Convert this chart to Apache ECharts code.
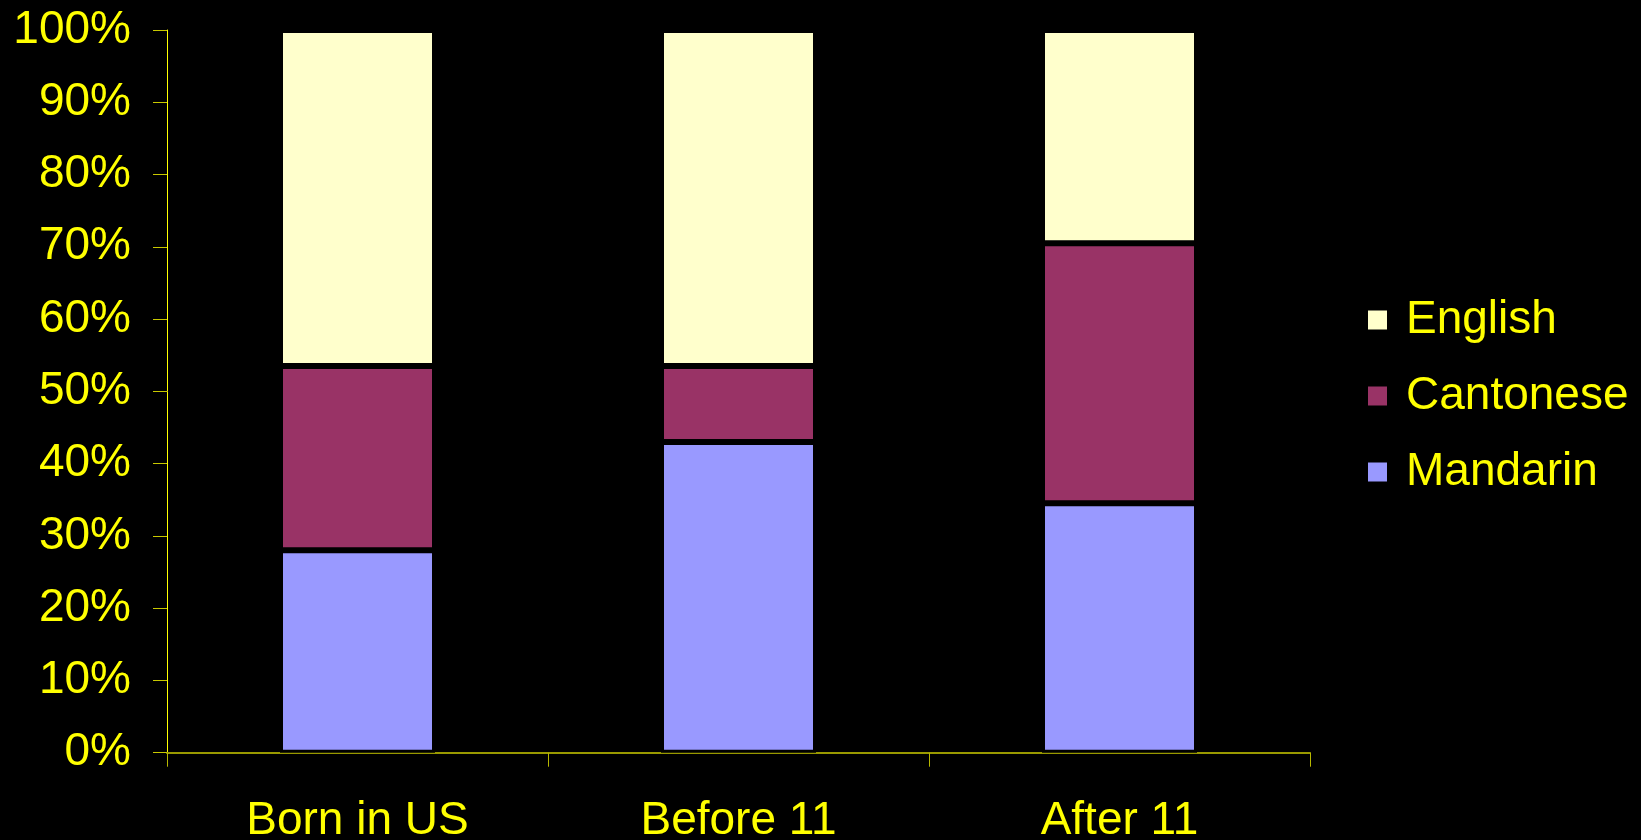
<!DOCTYPE html>
<html>
<head>
<meta charset="utf-8">
<script src="https://cdn.jsdelivr.net/npm/echarts@6/dist/echarts.min.js"></script>
<style>
  html, body { margin: 0; padding: 0; background: #000; }
  #chart { width: 1641px; height: 840px; }
</style>
</head>
<body>
<div id="chart"></div>
<script>
const categories = ['Born in US', 'Before 11', 'After 11'];
const mandarin = [28, 43, 34.5];
const cantonese = [25.5, 10.5, 36];
const english = [46.5, 46.5, 29.5];
const legendOrder = ['English', 'Cantonese', 'Mandarin'];

const FONT = '"Liberation Sans", Arial, sans-serif';
const chart = echarts.init(document.getElementById('chart'), null, { renderer: 'canvas' });

function barSeries(name, data, color) {
  return {
    name: name,
    type: 'bar',
    stack: 'total',
    data: data,
    barWidth: 155,
    itemStyle: { color: color, borderColor: '#000', borderWidth: 3 },
    emphasis: { disabled: true }
  };
}

chart.setOption({
  backgroundColor: '#000000',
  animation: false,
  textStyle: { fontFamily: FONT },
  grid: { left: 167, right: 331, top: 30, bottom: 87.3, containLabel: false, outerBoundsMode: 'none' },
  legend: {
    orient: 'vertical',
    left: 1366,
    top: 297,
    padding: 0,
    data: legendOrder,
    icon: 'rect',
    itemWidth: 21,
    itemHeight: 21,
    itemGap: 30,
    textStyle: { color: '#ffff00', fontSize: 46, fontFamily: FONT, lineHeight: 46, padding: [0, 0, 0, 13] }
  },
  xAxis: {
    type: 'category',
    data: categories,
    axisLine: { show: true, lineStyle: { color: '#999900', width: 2 } },
    axisTick: { show: true, interval: 0, length: 14, lineStyle: { color: '#b8b800', width: 1 } },
    axisLabel: { color: '#ffff00', fontSize: 46, fontFamily: FONT, margin: 46, interval: 0 },
    splitLine: { show: false }
  },
  yAxis: {
    type: 'value',
    min: 0,
    max: 100,
    interval: 10,
    axisLine: { show: true, lineStyle: { color: '#ffff00', width: 1 } },
    axisTick: { show: true, length: 14, lineStyle: { color: '#c8c800', width: 1 } },
    axisLabel: { color: '#ffff00', fontSize: 46, fontFamily: FONT, margin: 36, formatter: '{value}%' },
    splitLine: { show: false }
  },
  series: [
    barSeries('Mandarin', mandarin, '#9999ff'),
    barSeries('Cantonese', cantonese, '#993366'),
    barSeries('English', english, '#ffffcc')
  ]
});
</script>
</body>
</html>
